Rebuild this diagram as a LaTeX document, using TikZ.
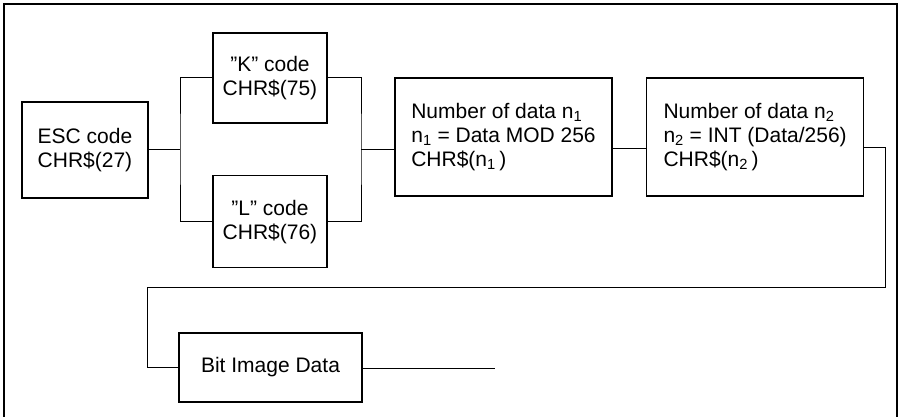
\documentclass[tikz,border=0pt]{standalone}
\usepackage{fontspec}
\setmainfont{Liberation Sans}
\usetikzlibrary{positioning,calc}

\begin{document}
\begin{tikzpicture}[
    x=1pt, y=-1pt,
    every node/.style={font=\fontsize{21}{24}\selectfont},
    box/.style={draw, line width=1.6pt, inner sep=0pt, align=center},
    codebox/.style={box, minimum width=114pt, minimum height=90pt},
    numbox/.style={box, minimum width=217pt, minimum height=118pt, align=left},
    link/.style={line width=1pt},
]
\useasboundingbox (0,0) rectangle (899,417);

% ---- Frame (open at the bottom) ----
\draw[line width=1.6pt] (4,417) -- (4,4) -- (897,4) -- (897,417);

% ---- Top row ----
\node[box, minimum width=126pt, minimum height=96pt] (esc) at (85,150) {ESC code\\CHR\$(27)};
\node[codebox] (kcode) at (270,78) {''K'' code\\CHR\$(75)};
\node[codebox, below=51pt of kcode, minimum height=92pt] (lcode) {''L'' code\\CHR\$(76)};
\node[numbox] (num1) at (503.5,137) {Number of data n\textsubscript{1}\\n\textsubscript{1} = Data MOD 256\\CHR\$(n\textsubscript{1}\,)};
\node[numbox, right=33pt of num1] (num2) {Number of data n\textsubscript{2}\\n\textsubscript{2} = INT (Data/256)\\CHR\$(n\textsubscript{2}\,)};

% ---- Bottom row ----
\node[box, minimum width=183pt, minimum height=69pt] (bitdata) at (270.5,367.5) {Bit Image Data};

% branch points and turns
\coordinate (splitL) at (180,149);
\coordinate (splitR) at (361,149);
\coordinate (turnA) at (885,147);
\coordinate (turnB) at (885,287);
\coordinate (turnC) at (147,287);
\coordinate (tail) at (495,368);

% ESC splits to K / L, which join again
\draw[link] (esc.east |- splitL) -- (splitL);
\draw[link] (kcode.west) -| (splitL) |- (lcode.west);
\draw[link] (kcode.east) -| (splitR) |- (lcode.east);
\draw[link] (splitR) -- (splitR -| num1.west);
\draw[link] (num1.east |- 0,148) -- (num2.west |- 0,148);

% Return path down to the bit image data
\draw[link] (num2.east |- turnA) -- (turnA) -- (turnB) -- (turnC) |- (bitdata.west);
\draw[link] (bitdata.east |- tail) -- (tail);

\end{tikzpicture}
\end{document}
